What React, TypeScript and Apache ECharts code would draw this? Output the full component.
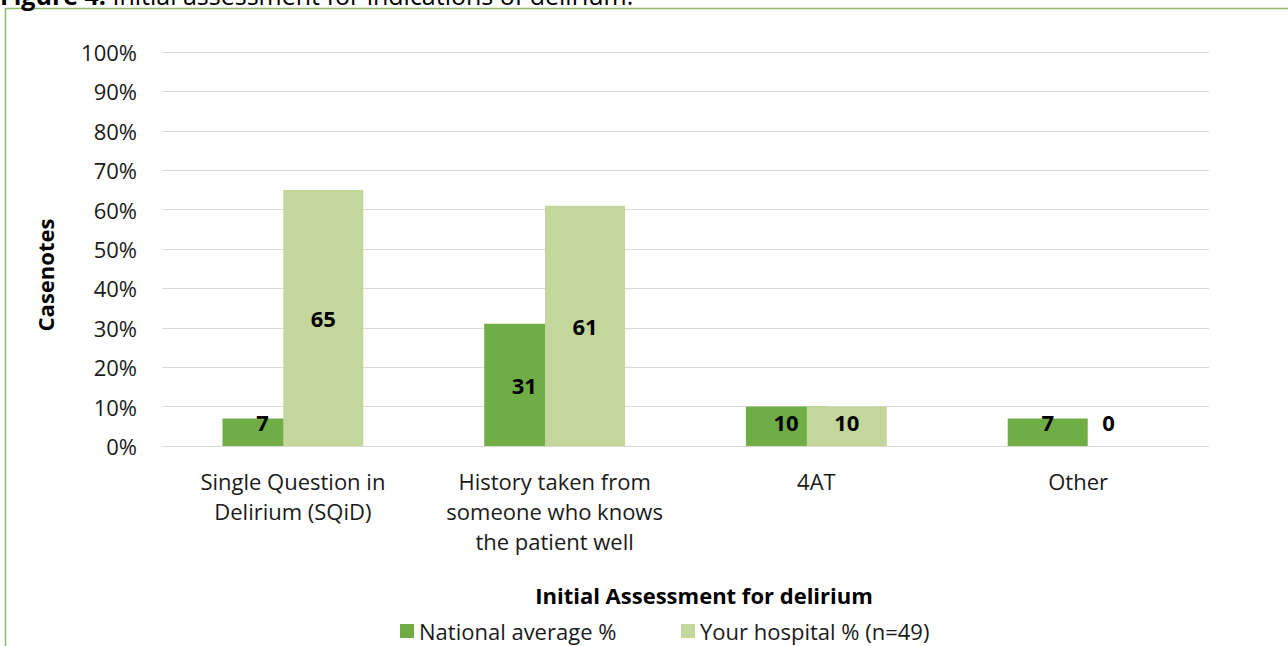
import React, { useEffect, useRef } from "react";
import * as echarts from "echarts";

const categories = [
  "Single Question in\nDelirium (SQiD)",
  "History taken from\nsomeone who knows\nthe patient well",
  "4AT",
  "Other",
];
const nationalValues = [7, 31, 10, 7];
const hospitalValues = [65, 61, 10, 0];
const seriesNames = ["National average %", "Your hospital % (n=49)"];
const yTicks = [0, 10, 20, 30, 40, 50, 60, 70, 80, 90, 100];

const FONT = "'Open Sans', 'Noto Sans', sans-serif";
const NATIONAL = "#70AD47";
const HOSPITAL = "#C3D69B";
const FS = 22;

function labelFor(v: number) {
  const small = v <= 12;
  return {
    show: true,
    position: small ? "insideBottom" : "inside",
    distance: 13,
    color: "#000",
    fontFamily: FONT,
    fontWeight: "bold",
    fontSize: FS,
    formatter: "{c}",
  };
}

export default function App() {
  const ref = useRef<HTMLDivElement>(null);
  useEffect(() => {
    if (!ref.current) return;
    const chart = echarts.init(ref.current, null, { renderer: "svg" });
    chart.setOption({
      animation: false,
      backgroundColor: "#fff",
      grid: { left: 162, right: 79, top: 52, bottom: 200, containLabel: false },
      xAxis: {
        type: "category",
        data: categories,
        axisLine: { show: true, lineStyle: { color: "#D9D9D9", width: 1 } },
        axisTick: { show: false },
        axisLabel: {
          color: "#1a1a1a",
          fontFamily: FONT,
          fontSize: FS,
          lineHeight: 30,
          margin: 20,
          interval: 0,
        },
      },
      yAxis: {
        type: "value",
        min: 0,
        max: 100,
        interval: 10,
        axisLine: { show: false },
        axisTick: { show: false },
        splitLine: { lineStyle: { color: "#D9D9D9", width: 1 } },
        axisLabel: {
          color: "#1a1a1a",
          fontFamily: FONT,
          fontSize: FS,
          margin: 25,
          formatter: (v: number) => (yTicks.includes(v) ? v + "%" : ""),
        },
      },
      legend: [
        {
          data: [seriesNames[0]],
          left: 395,
          top: 615,
          itemWidth: 14,
          itemHeight: 14,
          itemGap: 6,
          icon: "rect",
          textStyle: { fontFamily: FONT, fontSize: FS, color: "#1a1a1a" },
        },
        {
          data: [seriesNames[1]],
          left: 676,
          top: 615,
          itemWidth: 14,
          itemHeight: 14,
          icon: "rect",
          textStyle: { fontFamily: FONT, fontSize: FS, color: "#1a1a1a" },
        },
      ],
      series: [
        {
          name: seriesNames[0],
          type: "bar",
          barWidth: 80,
          barGap: "-24%",
          itemStyle: { color: NATIONAL },
          data: nationalValues.map((v) => ({ value: v, label: labelFor(v) })),
          z: 2,
        },
        {
          name: seriesNames[1],
          type: "bar",
          barWidth: 80,
          barGap: "-24%",
          itemStyle: { color: HOSPITAL },
          data: hospitalValues.map((v) => ({ value: v, label: labelFor(v) })),
          z: 3,
        },
      ],
      graphic: [
        {
          type: "rect",
          shape: { x: 5.5, y: 8.5, width: 1400, height: 800 },
          style: { fill: "none", stroke: "#8DBB6A", lineWidth: 1.5 },
          silent: true,
        },
        {
          type: "text",
          x: 0,
          y: 7,
          style: {
            text: "{b|Figure 4:} Initial assessment for indications of delirium.",
            font: `25px ${FONT}`,
            fill: "#000",
            verticalAlign: "bottom",
            rich: { b: { fontWeight: "bold", fontSize: 25, fontFamily: FONT } },
          },
        },
        {
          type: "text",
          x: 45,
          y: 275,
          rotation: Math.PI / 2,
          style: {
            text: "Casenotes",
            font: `bold ${FS}px ${FONT}`,
            fill: "#000",
            align: "center",
            verticalAlign: "middle",
          },
        },
        {
          type: "text",
          x: 704,
          y: 595,
          style: {
            text: "Initial Assessment for delirium",
            font: `bold ${FS}px ${FONT}`,
            fill: "#000",
            align: "center",
            verticalAlign: "middle",
          },
        },
      ],
    });
    return () => chart.dispose();
  }, []);
  return (
    <div
      ref={ref}
      style={{ position: "fixed", left: 0, top: 0, width: 1288, height: 646 }}
    />
  );
}
